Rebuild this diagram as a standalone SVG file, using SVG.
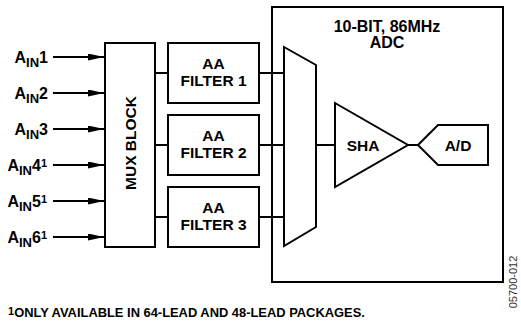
<svg xmlns="http://www.w3.org/2000/svg" width="521" height="325" viewBox="0 0 521 325">
<defs>
<style>
.b{fill:#fff;stroke:#000;stroke-width:2}
.t{font-family:"Liberation Sans",Arial,sans-serif;font-weight:bold;font-size:15.5px;fill:#000}
.in{font-size:16px}
.ln{stroke:#000;stroke-width:2;fill:none}
.ar{stroke:#000;stroke-width:2;fill:none;marker-end:url(#ah)}
.sub{font-size:13px}
.sup{font-size:11px}
</style>
<marker id="ah" markerUnits="userSpaceOnUse" markerWidth="17" markerHeight="8" refX="16" refY="3.5" orient="auto">
<path d="M0,0 L16,3.5 L0,7 z" fill="#000"/>
</marker>
</defs>
<rect width="521" height="325" fill="#fff"/>
<g id="inputs">
<text class="t in" x="48" y="62.5" text-anchor="end">A<tspan class="sub" dy="4">IN</tspan><tspan dy="-4">1</tspan></text>
<text class="t in" x="48" y="98.5" text-anchor="end">A<tspan class="sub" dy="4">IN</tspan><tspan dy="-4">2</tspan></text>
<text class="t in" x="48" y="134.5" text-anchor="end">A<tspan class="sub" dy="4">IN</tspan><tspan dy="-4">3</tspan></text>
<text class="t in" x="47" y="170.5" text-anchor="end">A<tspan class="sub" dy="4">IN</tspan><tspan dy="-4">4</tspan><tspan class="sup" dy="-4">1</tspan></text>
<text class="t in" x="47" y="206.5" text-anchor="end">A<tspan class="sub" dy="4">IN</tspan><tspan dy="-4">5</tspan><tspan class="sup" dy="-4">1</tspan></text>
<text class="t in" x="47" y="242.5" text-anchor="end">A<tspan class="sub" dy="4">IN</tspan><tspan dy="-4">6</tspan><tspan class="sup" dy="-4">1</tspan></text>
</g>
<g id="adc">
<rect class="b" x="272" y="7" width="231" height="275"/>
<text class="t" x="387" y="32" text-anchor="middle" style="font-size:16px">10-BIT, 86MHz</text>
<text class="t" x="387" y="47.5" text-anchor="middle" style="font-size:16px">ADC</text>
</g>
<g id="connectors">
<line class="ar" x1="53" y1="57" x2="104" y2="57"/>
<line class="ar" x1="53" y1="93" x2="104" y2="93"/>
<line class="ar" x1="53" y1="129" x2="104" y2="129"/>
<line class="ar" x1="53" y1="165" x2="104" y2="165"/>
<line class="ar" x1="53" y1="201" x2="104" y2="201"/>
<line class="ar" x1="53" y1="237" x2="104" y2="237"/>
<line class="ln" x1="155" y1="73" x2="168" y2="73"/>
<line class="ln" x1="155" y1="145" x2="168" y2="145"/>
<line class="ln" x1="155" y1="217" x2="168" y2="217"/>
<line class="ln" x1="259" y1="73" x2="284" y2="73"/>
<line class="ln" x1="259" y1="145" x2="284" y2="145"/>
<line class="ln" x1="259" y1="217" x2="284" y2="217"/>
<line class="ln" x1="316" y1="145" x2="335" y2="145"/>
<line class="ln" x1="408" y1="145" x2="418" y2="145"/>
</g>
<g id="mux">
<rect class="b" x="105" y="43" width="50" height="204"/>
<text class="t" x="136" y="143" text-anchor="middle" transform="rotate(-90 136 143)">MUX BLOCK</text>
</g>
<g id="filter1">
<rect class="b" x="168" y="43" width="91" height="60"/>
<text class="t" x="213.5" y="69" text-anchor="middle">AA</text>
<text class="t" x="213.5" y="86" text-anchor="middle">FILTER 1</text>
</g>
<g id="filter2">
<rect class="b" x="168" y="115" width="91" height="60"/>
<text class="t" x="213.5" y="141" text-anchor="middle">AA</text>
<text class="t" x="213.5" y="158" text-anchor="middle">FILTER 2</text>
</g>
<g id="filter3">
<rect class="b" x="168" y="187" width="91" height="60"/>
<text class="t" x="213.5" y="213" text-anchor="middle">AA</text>
<text class="t" x="213.5" y="230" text-anchor="middle">FILTER 3</text>
</g>
<g id="adcmux">
<polygon class="b" points="284,47 316,65 316,227 284,246"/>
</g>
<g id="sha">
<polygon class="b" points="335,103 408,145 335,187"/>
<text class="t" x="363" y="150.5" text-anchor="middle">SHA</text>
</g>
<g id="ad">
<polygon class="b" points="418,145 438,125 488,125 488,165 438,165"/>
<text class="t" x="458" y="150.5" text-anchor="middle">A/D</text>
</g>
<g id="notes">
<text class="t" x="8" y="317" style="font-size:12.9px"><tspan style="font-size:11px" dy="-2.5">1</tspan><tspan dy="2.5">ONLY AVAILABLE IN 64-LEAD AND 48-LEAD PACKAGES.</tspan></text>
<text x="517" y="282" text-anchor="middle" transform="rotate(-90 517 282)" font-family="Liberation Sans,Arial,sans-serif" font-size="11" fill="#333">05700-012</text>
</g>
</svg>
